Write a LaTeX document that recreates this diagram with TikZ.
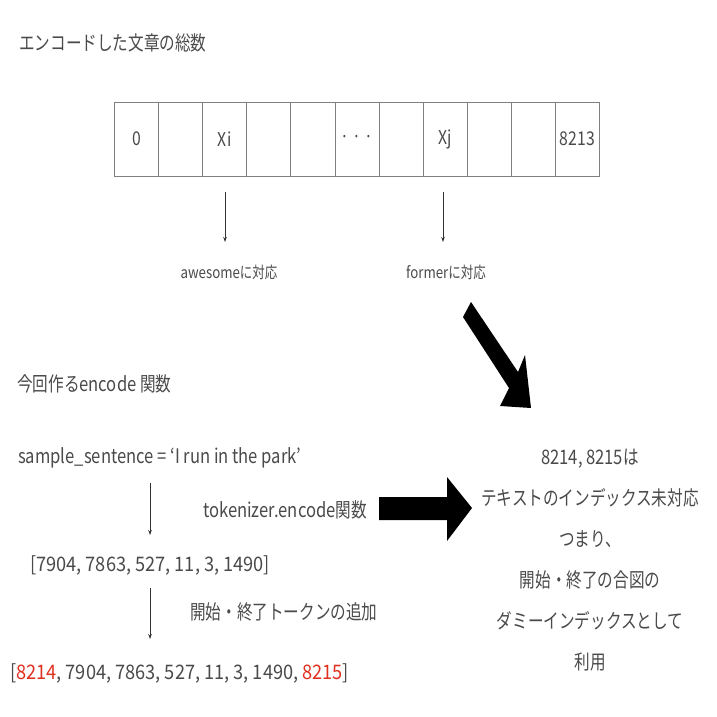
\documentclass[tikz,border=0pt]{standalone}
\usepackage{fontspec}
\setmainfont[FakeStretch=0.83]{Noto Sans CJK JP}
\newfontfamily\jp[FakeStretch=0.78]{Noto Sans CJK JP}
\newfontfamily\num[FakeStretch=0.91]{Noto Sans CJK JP}
\usetikzlibrary{arrows.meta}
\definecolor{txt}{HTML}{4A4A4A}
\definecolor{redtxt}{HTML}{E0301E}
\definecolor{cellline}{HTML}{808080}
\tikzset{
  lbl/.style={inner sep=0pt, text=txt, font=\fontsize{20}{24}\selectfont},
  small/.style={inner sep=0pt, text=txt, font=\fontsize{16}{19}\selectfont},
  cell/.style={draw=cellline, line width=0.8pt, minimum width=44.1pt, minimum height=74pt, inner sep=0pt, text=txt, font=\fontsize{19}{22}\selectfont, anchor=west},
  thin/.style={draw=black!80, line width=0.8pt, -{Stealth[length=5pt,width=3.5pt]}},
  bigarrow/.style={fill=black}
}
\begin{document}
\begin{tikzpicture}[x=1pt,y=-1pt]
\useasboundingbox (0,0) rectangle (717,717);
\fill[white] (0,0) rectangle (717,717);
% title
\node[lbl, anchor=west] (title) at (19,43) {\jp エンコードした文章の総数};
% array
\foreach \i/\t in {0/0,1/,2/Xi,3/,4/,5/{· · ·},6/,7/Xj,8/,9/,10/8213}{
  \node[cell] (c\i) at ({114+44.1*\i},139) {\t};
}
\node[small, anchor=center] (aw) at (229,272) {awesome{\jp に対応}};
\node[small, anchor=center] (fo) at (446,272) {former{\jp に対応}};
\coordinate (a1s) at (225,192);
\coordinate (a2s) at (443,192);
\draw[thin] (a1s) -- (a1s |- 0,242);
\draw[thin] (a2s) -- (a2s |- 0,242);
% big diagonal arrow
\fill[bigarrow] (463,317) -- (471,302) -- (518,372) -- (525,355) -- (531,408) -- (500,406) -- (509,388) -- cycle;
% section 2
\node[lbl, anchor=west] (sub) at (17,384) {{\jp 今回作る}encode {\jp 関数}};
\node[lbl, anchor=west] (s1) at (18,458) {sample\_sentence = ‘I run in the park’};
\node[lbl, anchor=west] (tk) at (203,510) {tokenizer.encode{\jp 関数}};
\node[lbl, anchor=west] (s2) at (30,565) {\num [7904, 7863, 527, 11, 3, 1490]};
\node[lbl, anchor=west] (ad) at (190,612) {\jp 開始・終了トークンの追加};
\node[lbl, anchor=west] (s3) at (10,673) {\num [\textcolor{redtxt}{8214}, 7904, 7863, 527, 11, 3, 1490, \textcolor{redtxt}{8215}]};
\coordinate (b1) at (150,483);
\coordinate (b2) at (150,588);
\draw[thin] (b1) -- (150,535);
\draw[thin] (b2) -- (150,639);
% horizontal big arrow
\fill[bigarrow] (379,497) -- (447,497) -- (447,477) -- (472,508) -- (447,541) -- (447,520) -- (379,520) -- cycle;
% right text
\node[lbl, anchor=center, align=center] (note) at (590,560) {8214, 8215{\jp は}\\[17pt]{\jp テキストのインデックス未対応}\\[17pt]{\jp つまり、}\\[17pt]{\jp 開始・終了の合図の}\\[17pt]{\jp ダミーインデックスとして}\\[17pt]{\jp 利用}};
\end{tikzpicture}
\end{document}
